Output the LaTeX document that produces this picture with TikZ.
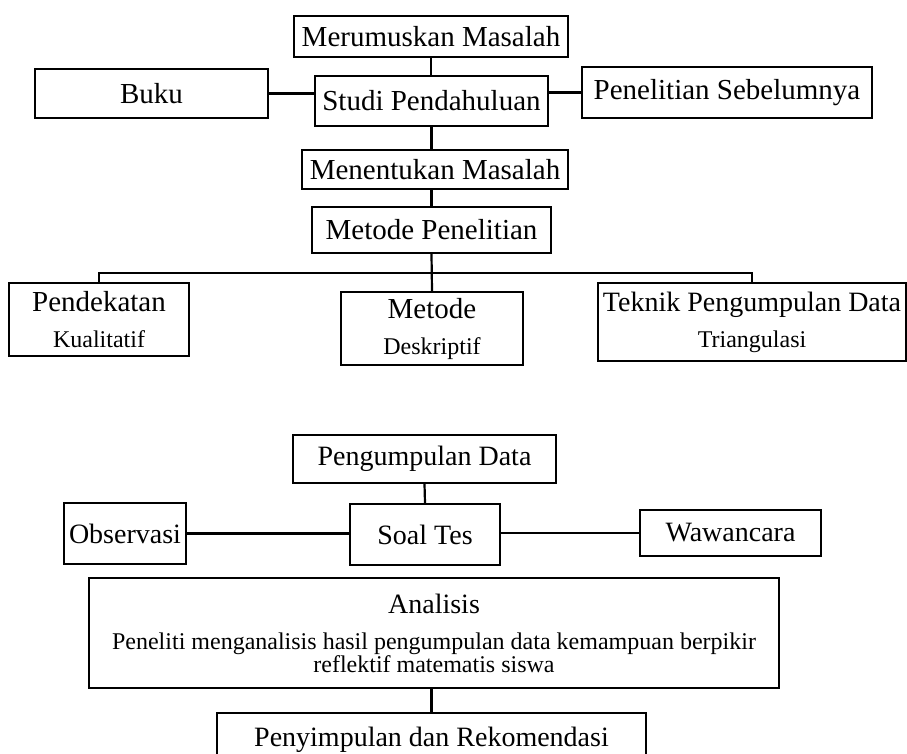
\documentclass[tikz,border=0pt]{standalone}
\usepackage{fontspec}
\setmainfont{Liberation Serif}
\usetikzlibrary{calc}
\newcommand{\hurufbesar}{\fontsize{29}{36}\selectfont}
\newcommand{\hurufsedang}{\fontsize{28}{36}\selectfont}
\newcommand{\hurufkecil}{\fontsize{24}{36}\selectfont}

\begin{document}
\begin{tikzpicture}[x=1pt,y=-1pt,kotak/.style={draw,line width=2.2pt,inner sep=0pt,align=center,font=\hurufbesar},garis/.style={line width=2.2pt},]
    \useasboundingbox (0,0) rectangle (907,754);
    % bagian atas
    \node[kotak,minimum width=274pt,minimum height=41pt] at (431,36.5) (merumuskan) {Merumuskan Masalah};
    \node[kotak,minimum width=233pt,minimum height=49pt] at (151.5,93.5) (buku) {Buku};
    \node[kotak,minimum width=233pt,minimum height=50pt] at (431.5,101) (studi) {Studi Pendahuluan};
    \node[kotak,minimum width=290pt,minimum height=51pt] at (727,92.5) (sebelumnya) {Penelitian Sebelumnya};
    \node[kotak,minimum width=266pt,minimum height=39pt] at (435,169.5) (menentukan) {Menentukan Masalah};
    \node[kotak,minimum width=239pt,minimum height=46pt] at (431.5,230) (metpen) {Metode Penelitian};
    \node[kotak,minimum width=180pt,minimum height=73pt] at (99,319.5) (pendekatan) {Pendekatan\\{\hurufkecil Kualitatif}};
    \node[kotak,minimum width=182pt,minimum height=73pt] at (432,328.5) (metode) {Metode\\{\hurufkecil Deskriptif}};
    \node[kotak,font=\hurufsedang,minimum width=308pt,minimum height=78pt] at (752,322) (teknik) {Teknik Pengumpulan Data\\{\hurufkecil Triangulasi}};
    \coordinate (cabang) at (432,273);
    \draw[garis] (merumuskan.south) -- (merumuskan.south |- studi.north);
    \draw[garis] (buku.east) -- (buku.east -| studi.west);
    \draw[garis] (studi.east |- sebelumnya.west) -- (sebelumnya.west);
    \draw[garis] (studi.south) -- (studi.south |- menentukan.north);
    \draw[garis] (metpen.north |- menentukan.south) -- (metpen.north);
    \draw[garis] (metpen.south) -- (metode.north);
    \draw[garis] (pendekatan.north) |- (cabang) -| (teknik.north);
    % bagian bawah
    \node[kotak,font=\hurufsedang,minimum width=263pt,minimum height=48pt] at (424.5,459) (pengumpulan) {Pengumpulan Data};
    \node[kotak,font=\hurufsedang,minimum width=122pt,minimum height=61pt] at (125,533.5) (observasi) {Observasi};
    \node[kotak,font=\hurufsedang,minimum width=150pt,minimum height=61pt] at (425,534.5) (soaltes) {Soal Tes};
    \node[kotak,font=\hurufsedang,minimum width=181pt,minimum height=46pt] at (730.5,533) (wawancara) {Wawancara};
    \node[kotak,font=\hurufsedang,minimum width=690pt,minimum height=110pt] at (434,633) (analisis) {Analisis\\{\hurufkecil Peneliti menganalisis hasil pengumpulan data kemampuan berpikir}\\[-13pt]{\hurufkecil reflektif matematis siswa}};
    \node[kotak,font=\hurufsedang,minimum width=429pt,minimum height=54pt] at (431.5,740) (penyimpulan) {Penyimpulan dan Rekomendasi};
    \draw[garis] (pengumpulan.south) -- (soaltes.north);
    \draw[garis] (observasi.east) -- (observasi.east -| soaltes.west);
    \draw[garis] (soaltes.east |- wawancara.west) -- (wawancara.west);
    \draw[garis] (penyimpulan.north |- analisis.south) -- (penyimpulan.north);
\end{tikzpicture}
\end{document}
